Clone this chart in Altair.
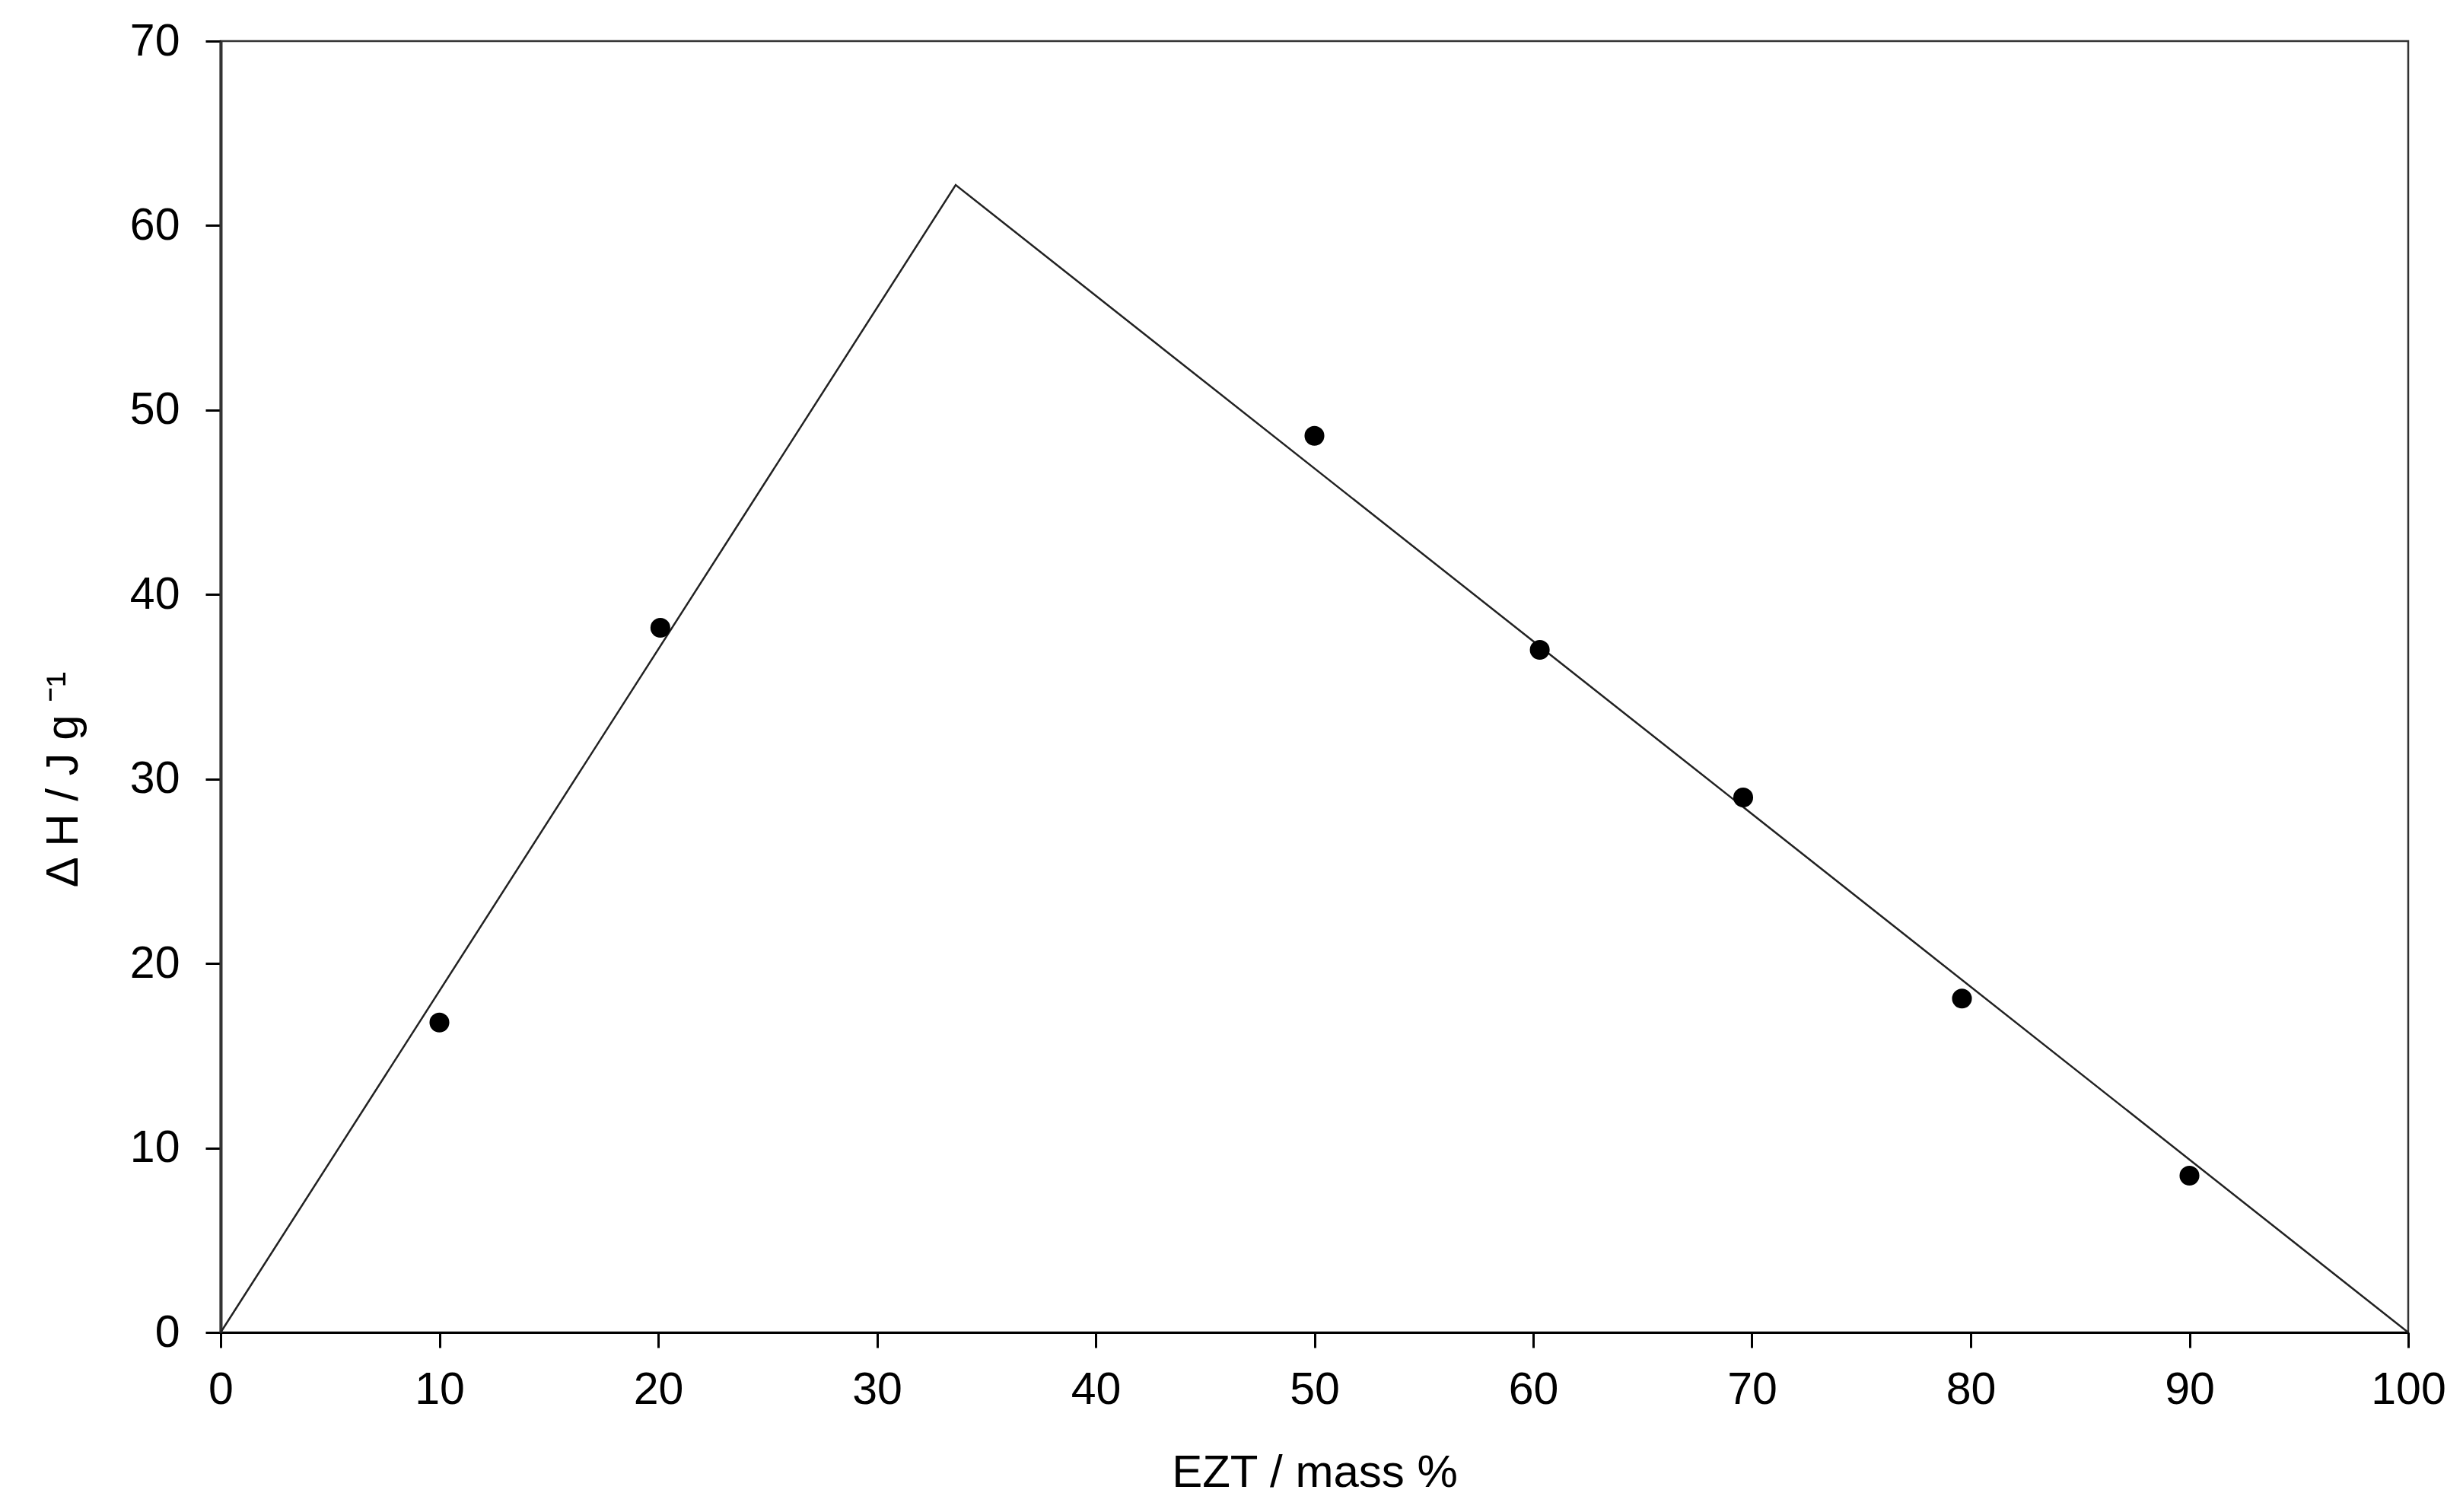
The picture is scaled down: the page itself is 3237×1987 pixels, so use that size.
import altair as alt
import pandas as pd

# Fitted lines (two linear branches meeting at the eutectic)
line_x = [0.0, 33.6, 100.0]
line_y = [0.0, 62.2, 0.0]

# Measured points
pts_x = [10.0, 20.1, 50.0, 60.3, 69.6, 79.6, 90.0]
pts_y = [16.8, 38.2, 48.6, 37.0, 29.0, 18.1, 8.5]

x_ticks = [0, 10, 20, 30, 40, 50, 60, 70, 80, 90, 100]
y_ticks = [0, 10, 20, 30, 40, 50, 60, 70]

line_df = pd.DataFrame({"x": line_x, "y": line_y})
pts_df = pd.DataFrame({"x": pts_x, "y": pts_y})

FONT = "Liberation Sans"
W, H = 2875, 1697

x_enc = alt.X(
    "x:Q",
    scale=alt.Scale(domain=[0, 100], nice=False, zero=False),
    axis=alt.Axis(
        values=x_ticks,
        title="EZT / mass %",
        titleFont=FONT, titleFontSize=60, titleFontWeight="normal", titleColor="black",
        titleBaseline="alphabetic", titleY=202, titleX=W / 2,
        labelFont=FONT, labelFontSize=59, labelColor="black", labelPadding=26,
        tickSize=20, tickWidth=3, tickColor="black",
        domainColor="black", domainWidth=3, grid=False,
        labelFlush=False,
    ),
)
y_enc = alt.Y(
    "y:Q",
    scale=alt.Scale(domain=[0, 70], nice=False, zero=False),
    axis=alt.Axis(
        values=y_ticks,
        title="Δ H / J g ⁻¹",
        titleFont=FONT, titleFontSize=60, titleFontWeight="normal", titleColor="black",
        titleAngle=270, titleAlign="center", titleBaseline="alphabetic",
        titleX=-189, titleY=970,
        labelFont=FONT, labelFontSize=59, labelColor="black", labelPadding=34,
        tickSize=20, tickWidth=3, tickColor="black",
        domainColor="#333333", domainWidth=4, grid=False,
        labelFlush=False,
    ),
)

line = alt.Chart(line_df).mark_line(color="#222222", strokeWidth=2.5).encode(
    x=x_enc, y=y_enc, order=alt.Order("x:Q")
)
points = alt.Chart(pts_df).mark_point(
    filled=True, color="black", size=680, opacity=1, shape="circle"
).encode(x="x:Q", y="y:Q")

chart = (
    alt.layer(line, points)
    .properties(
        width=W,
        height=H,
        autosize=alt.AutoSizeParams(type="none"),
        padding={"left": 282, "top": 46, "right": 64, "bottom": 220},
        background="white",
    )
    .configure_view(stroke="#333333", strokeWidth=2.5)
)

chart.save("out.html", embed_options={"renderer": "svg", "actions": False})
